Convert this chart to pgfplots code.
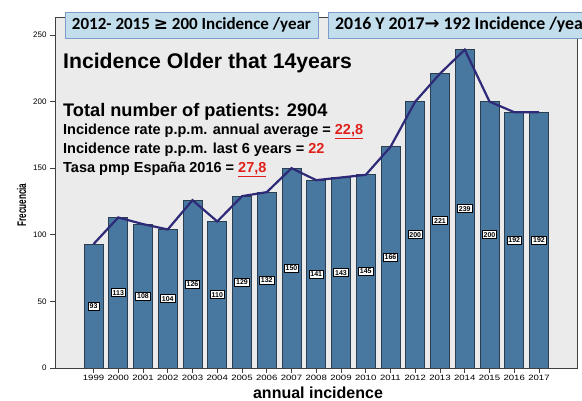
\documentclass[border=0pt]{standalone}
\usepackage{fontspec}
\setmainfont{Liberation Sans}
\newfontfamily\boxfont{Carlito}
\newfontfamily\symfont{DejaVu Sans}
\usepackage{pgfplots}
\usepackage{pgfplotstable}
\pgfplotsset{compat=1.18}
\definecolor{barfill}{HTML}{4878A0}
\definecolor{bardraw}{HTML}{2A3E50}
\definecolor{bgc}{HTML}{EBEBEB}
\definecolor{linec}{HTML}{2E2A78}
\definecolor{boxfill}{HTML}{C2DDEB}
\definecolor{boxdraw}{HTML}{7B9CCB}
\definecolor{redtxt}{HTML}{E0201B}
\pgfplotstableread{
year v
1999 93
2000 113
2001 108
2002 104
2003 126
2004 110
2005 129
2006 132
2007 150
2008 141
2009 143
2010 145
2011 166
2012 200
2013 221
2014 239
2015 200
2016 192
2017 192
}\datatable
\begin{document}
\begin{tikzpicture}[x=1pt,y=1pt]
\useasboundingbox (0,0) rectangle (582,401);
\begin{axis}[
  at={(55pt,33pt)}, anchor=south west,
  scale only axis, width=522pt, height=351pt,
  xmin=1997.444, xmax=2018.535, ymin=0, ymax=263.5,
  axis background/.style={fill=bgc},
  axis line style={draw=black!75, line width=0.6pt},
  tick pos=left, tick align=outside, major tick length=5pt,
  tick style={draw=black!75, line width=0.6pt},
  xtick={1999,...,2017}, ytick={0,50,...,250},
  /pgf/number format/assume math mode=true,
  /pgf/number format/1000 sep={},
  xticklabel={\scalebox{1}[0.8]{\pgfmathprintnumber{\tick}}},
  xticklabel style={font=\fontsize{9.6}{9.6}\selectfont, yshift=1pt},
  yticklabel style={font=\fontsize{8}{8}\selectfont},
]
\addplot[ybar, bar width=19pt, fill=barfill, draw=bardraw, line width=0.8pt]
  table[x=year, y=v] {\datatable};
\addplot[sharp plot, color=linec, line width=2.2pt, mark=none]
  table[x=year, y=v] {\datatable};
\addplot[only marks, mark=none, nodes near coords, point meta=explicit,
  nodes near coords style={anchor=center, fill=white, draw=black, line width=0.8pt,
    inner sep=1.5pt, font=\fontsize{7}{7}\selectfont\bfseries}]
  table[x=year, y expr=\thisrow{v}/2, meta=v] {\datatable};
\end{axis}
% top boxes
\filldraw[fill=boxfill, draw=boxdraw, line width=0.8pt] (65,363) rectangle (318,389);
\filldraw[fill=boxfill, draw=boxdraw, line width=0.8pt] (328.3,363) rectangle (640,389);
\node[anchor=center, inner sep=0] at (191.5,376) {\boxfont\bfseries\fontsize{17}{17}\selectfont 2012- 2015 {\symfont ≥} 200 Incidence /year};
\node[anchor=west, inner sep=0] at (335,376) {\boxfont\bfseries\fontsize{17.8}{17.8}\selectfont 2016 Y 2017{\symfont\bfseries →} 192 Incidence /year};
% texts
\node[anchor=base west, inner sep=0] at (63,332) {\fontsize{21.2}{21.2}\selectfont\bfseries Incidence Older that 14years};
\node[anchor=base west, inner sep=0] at (63,284.3) {\fontsize{18.2}{18.2}\selectfont\bfseries Total number of patients: 2904};
\node[anchor=base west, inner sep=0] at (63,266) {\fontsize{14.5}{14.5}\selectfont\bfseries Incidence rate p.p.m. annual average = {\color{redtxt}\underline{22,8}}};
\node[anchor=base west, inner sep=0] at (63,247.7) {\fontsize{14.5}{14.5}\selectfont\bfseries Incidence rate p.p.m. last 6 years = {\color{redtxt}22}};
\node[anchor=base west, inner sep=0] at (63,228.7) {\fontsize{14.5}{14.5}\selectfont\bfseries Tasa pmp España 2016 = {\color{redtxt}\underline{27,8}}};
% axis labels
\node[rotate=90, inner sep=0] at (21.7,196) {\scalebox{0.65}[1]{\fontsize{12.5}{12.5}\selectfont\bfseries Frecuencia}};
\node[inner sep=0] at (318,8) {\fontsize{16}{16}\selectfont\bfseries annual incidence};
\end{tikzpicture}
\end{document}
